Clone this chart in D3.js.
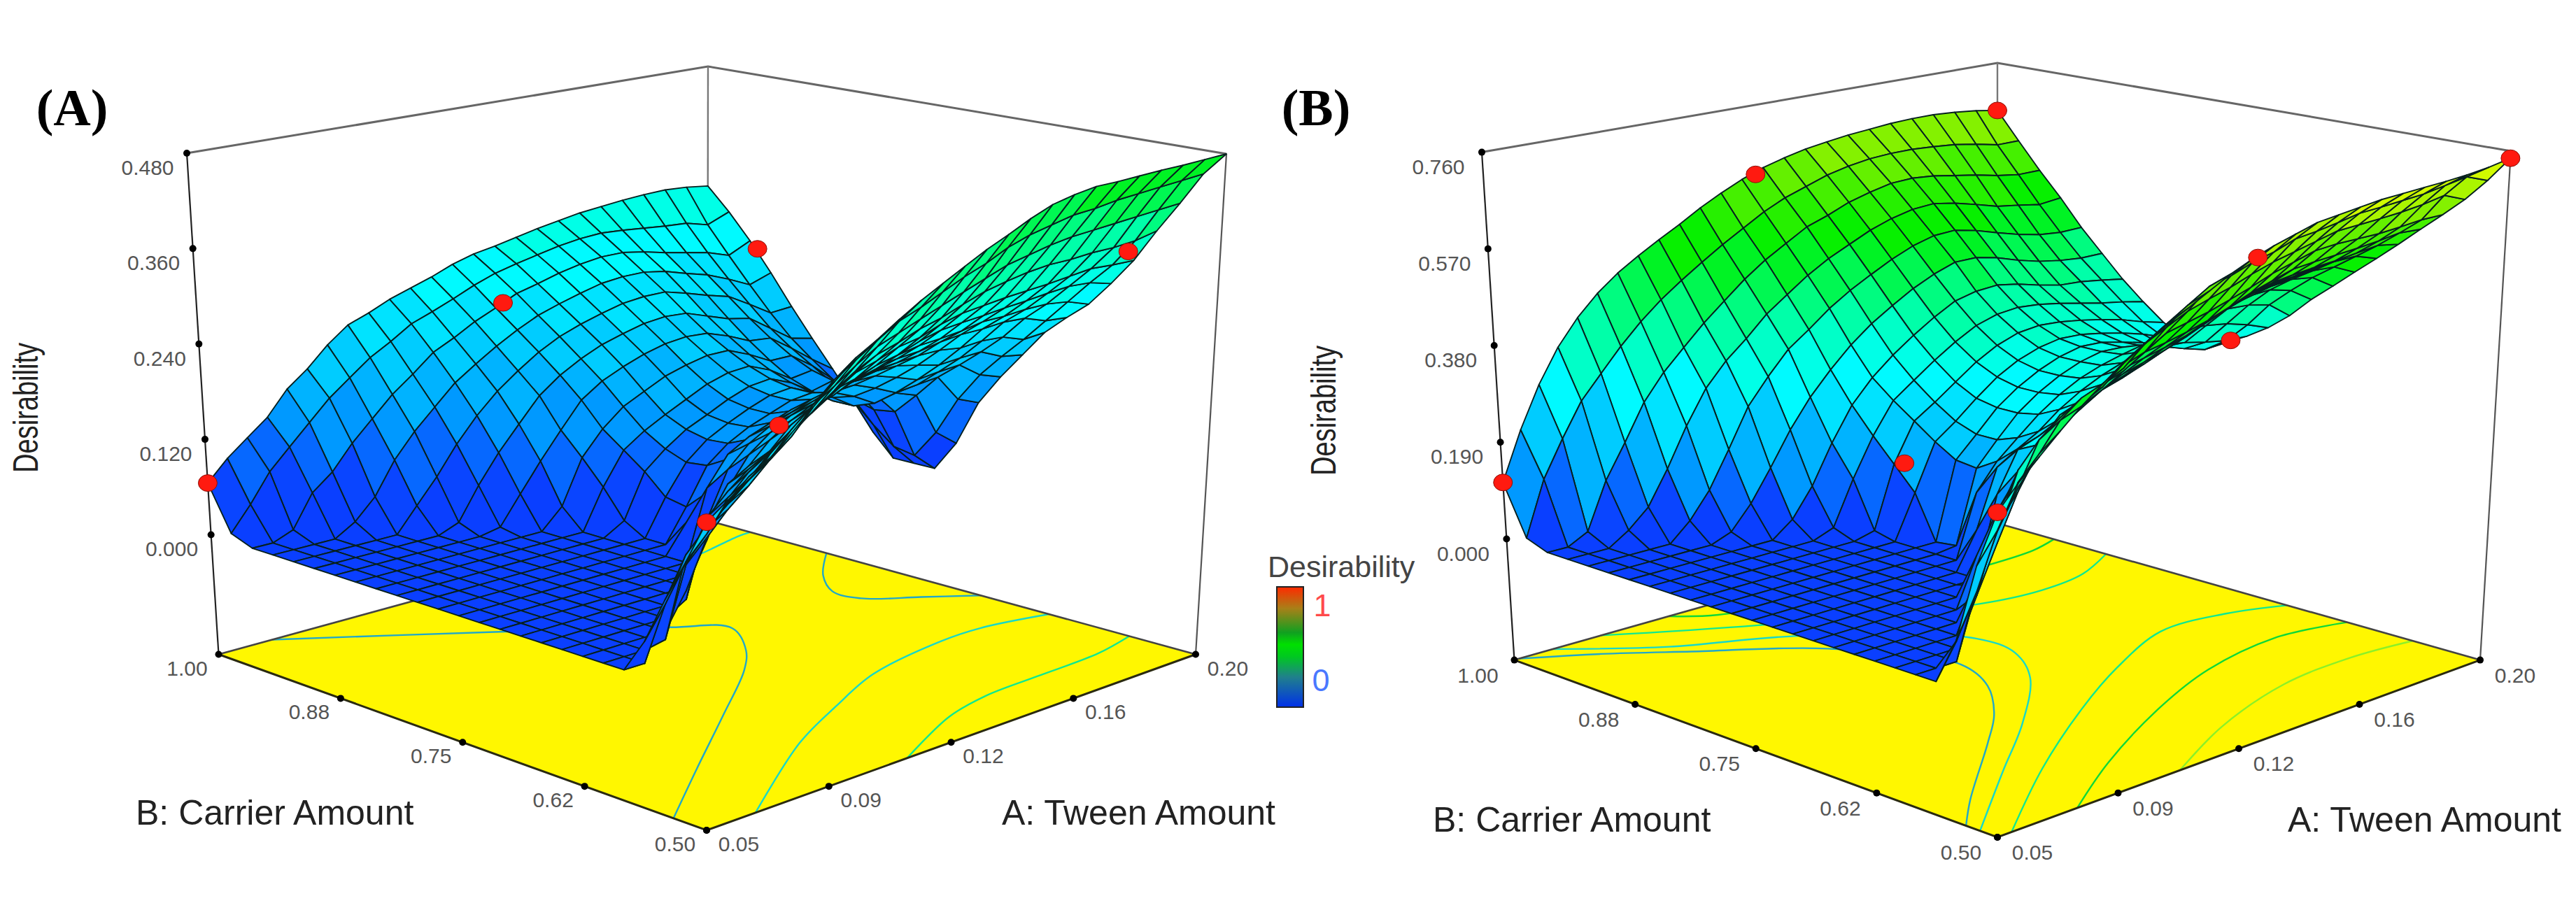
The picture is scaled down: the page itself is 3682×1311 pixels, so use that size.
<!DOCTYPE html>
<html>
<head>
<meta charset="utf-8">
<style>
  html, body { margin: 0; background: #fff; }
  text { font-family: "Liberation Sans", Arial, sans-serif; }
</style>
</head>
<body>
<svg id="chart" width="3682" height="1311"></svg>
<script src="https://cdn.jsdelivr.net/npm/d3@7"></script>
<script>
// axis values and labels
const aTicks = [0.05, 0.0875, 0.125, 0.1625, 0.2];
const aLabels = ["0.05", "0.09", "0.12", "0.16", "0.20"];
const bTicks = [1, 0.875, 0.75, 0.625, 0.5];
const bLabels = ["1.00", "0.88", "0.75", "0.62", "0.50"];
const zTicksA = [0, 0.12, 0.24, 0.36, 0.48];
const zTicksB = [0, 0.19, 0.38, 0.57, 0.76];

// surface heights, in thousandths
// one row per Tween value (0.05 -> 0.20), each running Carrier 1.00 -> 0.50
const desirA = [
  [65,10,0,0,0,0,0,0,0,0,0,0,0,0,0,0,0,0,0,0,0,40,95,145,197],
  [90,40,0,0,0,0,0,0,0,0,0,0,0,0,0,0,0,0,0,0,0,75,130,170,215],
  [110,75,10,0,0,0,0,0,0,0,0,0,0,0,0,0,0,0,0,0,65,125,165,200,232],
  [130,100,50,0,0,0,0,0,0,0,0,0,0,0,0,0,0,0,0,5,110,150,185,222,250],
  [160,125,70,15,0,0,0,0,0,0,0,0,0,0,0,0,0,0,0,85,135,170,205,235,272],
  [180,150,100,40,0,0,0,0,0,0,0,0,0,0,0,0,0,0,40,110,150,185,222,255,295],
  [205,170,125,80,30,0,0,0,0,0,0,0,0,0,0,0,0,15,120,150,180,215,250,285,318],
  [225,190,150,110,60,10,0,0,0,0,0,0,0,0,0,0,0,105,135,165,200,232,272,308,340],
  [235,205,170,135,95,50,5,0,0,0,0,0,0,0,0,0,85,130,160,190,222,252,288,325,355],
  [247,222,192,160,125,85,40,0,0,0,0,0,0,0,0,50,125,150,178,210,240,270,306,342,372],
  [256,232,205,178,150,115,75,25,0,0,0,0,0,0,60,105,140,165,195,225,255,287,322,358,388],
  [265,243,220,195,170,145,108,80,50,15,0,0,35,85,115,140,165,190,218,245,272,300,332,368,402],
  [276,255,232,210,188,165,140,110,90,70,45,40,65,120,140,160,182,205,226,252,280,308,342,380,416],
  [284,265,245,223,202,180,158,132,108,92,82,85,100,135,155,175,195,218,238,262,290,318,352,392,430],
  [289,272,252,232,212,192,170,145,122,110,104,106,118,145,165,185,205,225,245,268,295,325,362,402,442],
  [295,278,260,240,220,200,180,158,135,122,118,120,132,155,175,195,215,235,255,278,305,335,372,415,455],
  [301,284,266,247,227,207,187,166,148,135,130,130,140,160,180,200,218,238,260,285,312,344,382,424,466],
  [306,288,270,250,230,210,190,172,156,145,140,140,148,165,184,203,220,240,262,288,315,350,388,430,472],
  [311,290,270,250,230,208,188,172,158,148,143,143,150,166,184,203,222,245,265,290,318,355,394,436,476],
  [314,288,265,245,222,198,178,160,146,136,130,130,138,155,175,197,222,248,270,293,320,358,398,438,476],
  [317,285,258,236,213,188,165,145,128,118,112,112,122,142,165,190,218,248,270,295,322,358,400,442,477],
  [319,282,252,228,205,182,162,145,132,125,121,120,128,145,168,192,220,250,272,298,325,360,402,444,478],
  [320,280,246,216,188,162,142,125,108,94,86,90,118,148,170,193,218,248,272,300,328,360,404,446,478],
  [318,272,236,202,170,142,120,100,78,52,30,25,62,112,150,180,208,238,268,298,326,362,406,448,479],
  [314,284,250,212,172,135,100,65,28,0,0,0,40,100,140,175,210,235,258,290,325,368,408,450,480]
];
const desirB = [
  [111,15,0,0,0,0,0,0,0,0,0,0,0,0,0,0,0,0,0,0,0,0,85,228,333],
  [205,120,0,0,0,0,0,0,0,0,0,0,0,0,0,0,0,0,0,0,0,60,160,280,374],
  [285,190,20,0,0,0,0,0,0,0,0,0,0,0,0,0,0,0,0,0,0,150,262,355,410],
  [350,255,110,25,0,0,0,0,0,0,0,0,0,0,0,0,0,0,0,0,120,235,325,395,446],
  [400,300,175,60,0,0,0,0,0,0,0,0,0,0,0,0,0,0,0,85,225,335,400,445,480],
  [440,345,245,125,35,0,0,0,0,0,0,0,0,0,0,0,0,0,90,170,275,375,430,475,510],
  [472,385,295,200,85,15,0,0,0,0,0,0,0,0,0,0,0,40,170,270,340,415,445,485,538],
  [498,420,335,265,155,60,0,0,0,0,0,0,0,0,0,0,90,185,255,310,375,430,470,520,563],
  [522,450,375,310,230,120,30,0,0,0,0,0,0,0,0,10,140,240,300,350,405,450,490,545,587],
  [545,478,410,345,280,185,85,15,0,0,0,0,0,0,0,130,220,275,330,380,430,475,525,570,608],
  [570,505,445,385,325,240,160,100,10,0,0,0,0,70,150,205,260,310,355,400,445,490,545,595,630],
  [592,530,475,415,355,285,225,175,130,85,0,5,120,180,225,245,295,350,388,430,470,515,565,620,652],
  [612,555,500,445,388,325,270,235,205,175,150,145,170,205,240,280,325,360,400,440,478,525,578,630,670],
  [628,575,525,470,415,358,305,265,232,205,190,190,205,228,262,300,340,375,412,450,488,535,590,645,685],
  [640,590,540,490,438,385,335,295,262,240,232,232,240,260,285,318,352,388,425,462,500,548,605,655,697],
  [650,605,558,510,460,410,362,322,292,272,262,262,268,285,308,338,372,405,440,478,515,562,618,670,709],
  [657,615,570,525,478,430,385,345,315,295,285,285,290,305,328,358,390,425,462,495,532,578,628,675,714],
  [663,622,580,535,490,445,395,358,330,310,302,302,305,320,345,375,408,445,478,510,545,590,638,682,719],
  [667,625,582,538,492,445,398,362,335,318,312,312,316,332,358,392,428,462,492,522,558,602,648,690,724],
  [671,625,578,530,482,435,390,358,332,316,310,310,325,355,385,415,438,472,500,528,562,605,650,692,726],
  [673,622,570,518,468,420,378,350,325,308,300,302,315,355,392,425,448,478,505,532,565,605,652,695,728],
  [673,618,562,505,455,408,368,340,316,298,288,290,308,352,395,430,458,485,510,535,568,605,655,698,730],
  [670,610,552,498,445,400,365,330,305,285,272,275,298,345,392,432,462,488,515,540,572,608,660,705,733],
  [665,600,545,490,440,395,358,322,290,268,258,262,290,332,382,420,455,485,515,545,578,612,668,712,738],
  [657,600,545,495,441,395,350,312,278,257,253,265,288,315,349,391,427,464,500,537,575,612,650,695,746]
];

// design points: Tween, Carrier, desirability
const pointsA = [[0.05,1,0.065],[0.05,0.5,0.197],[0.125,0.951,0.241],[0.2,0.951,0.241],[0.1325,0.7035,0.156],[0.2,0.589,0.335]];
const pointsB = [[0.05,1,0.111],[0.129,1,0.617],[0.2,1,0.657],[0.05,0.5,0.333],[0.2,0.5,0.746],[0.2,0.766,0.272],[0.1265,0.5,0.67],[0.0957,0.7455,0.219]];

// contour lines on the floor: level, then Tween/Carrier points
const contoursA = [
  [0.12, [[0.05,0.534],[0.0755,0.595],[0.104,0.663],[0.128,0.722],[0.138,0.7535],[0.1468,0.7965],[0.138,0.83],[0.1085,0.907],[0.0665,1]]],
  [0.12, [[0.2,0.878],[0.1876,0.84],[0.1807,0.8075],[0.1813,0.78],[0.1907,0.75],[0.2,0.72]]],
  [0.24, [[0.2,0.65],[0.1835,0.665],[0.1715,0.665],[0.1453,0.648],[0.125,0.6175],[0.1025,0.58],[0.065,0.5]]],
  [0.24, [[0.2,0.956],[0.1963,0.955],[0.1805,0.942],[0.16,0.93]]],
  [0.36, [[0.2,0.568],[0.1873,0.5575],[0.168,0.555],[0.1511,0.5525],[0.1363,0.54],[0.1115,0.5]]]
];
const contoursB = [
  [0.12, [[0.05,0.5325],[0.062,0.568],[0.0898,0.6425],[0.1036,0.682],[0.116,0.73],[0.122,0.7775],[0.1085,0.87],[0.0845,0.9315],[0.068,0.97],[0.0515,1]]],
  [0.24, [[0.05,0.518],[0.0793,0.592],[0.104,0.654],[0.1265,0.721],[0.136,0.768],[0.137,0.812],[0.11,0.905],[0.083,0.95],[0.062,1]]],
  [0.36, [[0.0544,0.5],[0.0868,0.576],[0.12,0.6455],[0.1445,0.691],[0.1685,0.726],[0.187,0.72],[0.2,0.7]]],
  [0.36, [[0.2,0.8875],[0.186,0.865],[0.1715,0.8585],[0.155,0.8675],[0.1085,0.9425],[0.077,1]]],
  [0.48, [[0.0748,0.5],[0.0995,0.55],[0.1325,0.606],[0.157,0.6385],[0.182,0.653],[0.2,0.638]]],
  [0.48, [[0.2,0.9415],[0.191,0.9325],[0.176,0.93]]],
  [0.48, [[0.098,1],[0.107,0.979],[0.13,0.965]]],
  [0.6, [[0.1067,0.5],[0.1325,0.5425],[0.161,0.5735],[0.183,0.5785],[0.2,0.57]]]
];

const legendStops = [[0,"#0030e8"],[0.25,"#20808c"],[0.42,"#00c820"],[0.52,"#00e000"],[0.62,"#10a020"],[0.82,"#a88018"],[1,"#ff2a00"]];

const svg = d3.select("#chart");

// colour of a mesh cell, in visible bands like the original
const ramp = d3.scaleLinear()
  .domain([0, 0.07, 0.11, 0.18, 0.27, 0.38, 0.5, 0.64, 0.76, 1])
  .range(["#0a3cff", "#0a48ff", "#0090ff", "#00c4ff", "#00ffff", "#00ff9e", "#00f000", "#7cf000", "#ffff00", "#ff0000"]);
const bandColor = z => ramp((Math.floor(z / 0.035) + 0.5) * 0.035);
const contourColor = d3.scaleOrdinal()
  .domain([0.12, 0.24, 0.36, 0.48, 0.6])
  .range(["#22a8c8", "#18d8c8", "#10e890", "#10d838", "#8cf028"]);

const sScale = d3.scaleLinear().domain([0.05, 0.2]).range([0, 1]);
const wScale = d3.scaleLinear().domain([0.5, 1]).range([0, 1]);
const lerp = (p, q, t) => [p[0] + (q[0] - p[0]) * t, p[1] + (q[1] - p[1]) * t];
const bilinear = (c, s, w) => lerp(lerp(c.F, c.R, s), lerp(c.L, c.B, s), w);

function drawPanel(cfg) {
  const g = svg.append("g");
  const tScale = d3.scaleLinear().domain([cfg.zFloor, cfg.zTop]).range([0, 1]);
  const project = (a, b, z) => lerp(
    bilinear(cfg.floor, sScale(a), wScale(b)),
    bilinear(cfg.top, sScale(a), wScale(b)),
    tScale(z));
  const flat = (a, b) => bilinear(cfg.floor, sScale(a), wScale(b));
  const line = d3.line();

  // floor
  g.append("path")
    .attr("d", line([cfg.floor.F, cfg.floor.R, cfg.floor.B, cfg.floor.L]) + "Z")
    .attr("fill", "#fff700");

  // contours on the floor
  g.selectAll("path.contour")
    .data(cfg.contours)
    .enter().append("path")
      .attr("class", "contour")
      .attr("d", d => d3.line().curve(d3.curveCatmullRom)(d[1].map(p => flat(p[0], p[1]))))
      .attr("fill", "none")
      .attr("stroke", d => contourColor(d[0]))
      .attr("stroke-width", 2.4);

  // floor edges
  g.append("path")
    .attr("d", line([cfg.floor.L, cfg.floor.F, cfg.floor.R]))
    .attr("fill", "none").attr("stroke", "#2a2a10").attr("stroke-width", 3);
  g.append("path")
    .attr("d", line([cfg.floor.L, cfg.floor.B, cfg.floor.R]))
    .attr("fill", "none").attr("stroke", "#444").attr("stroke-width", 2.6);

  // box: top edges and verticals
  g.append("path")
    .attr("d", line([cfg.top.L, cfg.top.B, cfg.top.R]))
    .attr("fill", "none").attr("stroke", "#666").attr("stroke-width", 3);
  g.append("path")
    .attr("d", line([cfg.top.B, cfg.floor.B]))
    .attr("fill", "none").attr("stroke", "#777").attr("stroke-width", 2.4);
  g.append("path")
    .attr("d", line([cfg.top.R, cfg.floor.R]))
    .attr("fill", "none").attr("stroke", "#555").attr("stroke-width", 2.2);
  g.append("path")
    .attr("d", line([cfg.top.L, cfg.floor.L]))
    .attr("fill", "none").attr("stroke", "#222").attr("stroke-width", 2.2);

  // surface cells, far corner first
  const n = cfg.values.length - 1;
  const aAt = d3.scaleLinear().domain([0, n]).range([0.05, 0.2]);
  const bAt = d3.scaleLinear().domain([0, n]).range([1, 0.5]);
  const cells = [];
  for (let i = 0; i < n; i++) {
    for (let j = 0; j < n; j++) {
      const zs = [cfg.values[i][j], cfg.values[i + 1][j], cfg.values[i + 1][j + 1], cfg.values[i][j + 1]].map(v => v / 1000);
      cells.push({
        depth: sScale(aAt(i + 0.5)) + wScale(bAt(j + 0.5)),
        z: d3.mean(zs),
        pts: [
          project(aAt(i), bAt(j), zs[0]),
          project(aAt(i + 1), bAt(j), zs[1]),
          project(aAt(i + 1), bAt(j + 1), zs[2]),
          project(aAt(i), bAt(j + 1), zs[3])
        ]
      });
    }
  }
  cells.sort((p, q) => q.depth - p.depth);
  g.selectAll("path.cell")
    .data(cells)
    .enter().append("path")
      .attr("class", "cell")
      .attr("d", d => line(d.pts) + "Z")
      .attr("fill", d => bandColor(d.z))
      .attr("stroke", "#06201f")
      .attr("stroke-width", 1.9)
      .attr("stroke-linejoin", "round");

  // tick dots
  const ticks = [
    ...cfg.zTicks.map(z => project(0.05, 1, z)),
    ...bTicks.map(b => flat(0.05, b)),
    ...aTicks.map(a => flat(a, 0.5))
  ];
  g.selectAll("circle.tick")
    .data(ticks)
    .enter().append("circle")
      .attr("class", "tick")
      .attr("cx", d => d[0]).attr("cy", d => d[1])
      .attr("r", 5).attr("fill", "#000");

  // tick labels
  const labelStyle = sel => sel
    .attr("text-anchor", "middle")
    .attr("font-size", 30)
    .attr("fill", "#555");
  g.selectAll("text.z")
    .data(cfg.zTicks)
    .enter().append("text").attr("class", "z")
      .attr("x", d => project(0.05, 1, d)[0] + cfg.zOff[0])
      .attr("y", d => project(0.05, 1, d)[1] + cfg.zOff[1] + 11)
      .text(d => d3.format(".3f")(d))
      .call(labelStyle);
  g.selectAll("text.b")
    .data(bTicks)
    .enter().append("text").attr("class", "b")
      .attr("x", d => flat(0.05, d)[0] + cfg.bOff[0])
      .attr("y", d => flat(0.05, d)[1] + cfg.bOff[1] + 11)
      .text((d, i) => bLabels[i])
      .call(labelStyle);
  g.selectAll("text.a")
    .data(aTicks)
    .enter().append("text").attr("class", "a")
      .attr("x", d => flat(d, 0.5)[0] + cfg.aOff[0])
      .attr("y", d => flat(d, 0.5)[1] + cfg.aOff[1] + 11)
      .text((d, i) => aLabels[i])
      .call(labelStyle);

  // design points
  g.selectAll("ellipse.point")
    .data(cfg.points)
    .enter().append("ellipse")
      .attr("class", "point")
      .attr("cx", d => project(d[0], d[1], d[2])[0])
      .attr("cy", d => project(d[0], d[1], d[2])[1])
      .attr("rx", 13.5).attr("ry", 12)
      .attr("fill", "#ff1a10").attr("stroke", "#8a1008").attr("stroke-width", 1);

  // titles
  g.append("text").attr("x", cfg.bTitleX).attr("y", cfg.titleY)
    .attr("font-size", 50).attr("fill", "#222").text("B: Carrier Amount");
  g.append("text").attr("x", cfg.aTitleX).attr("y", cfg.titleY)
    .attr("font-size", 50).attr("fill", "#222").text("A: Tween Amount");
  g.append("text")
    .attr("transform", `translate(${cfg.zTitle[0]},${cfg.zTitle[1]}) rotate(-90)`)
    .attr("text-anchor", "middle")
    .attr("font-size", 50).attr("fill", "#222")
    .attr("textLength", 186).attr("lengthAdjust", "spacingAndGlyphs")
    .text("Desirability");
  g.append("text")
    .attr("x", cfg.letter[0]).attr("y", cfg.letter[1])
    .attr("text-anchor", "middle")
    .style("font-family", "'Liberation Serif', serif")
    .attr("font-weight", "bold").attr("font-size", 74).attr("fill", "#000")
    .text(cfg.name);
}

drawPanel({
  name: "(A)", values: desirA, points: pointsA, contours: contoursA, zTicks: zTicksA,
  zFloor: -0.1505, zTop: 0.48,
  floor: { F: [1010, 1187], R: [1709, 935.5], B: [1011, 744], L: [312.5, 935.5] },
  top: { F: [1010, 388], R: [1753, 220], B: [1012, 95], L: [267, 219] },
  zOff: [-56, 20], bOff: [-45, 19], aOff: [46, 19],
  bTitleX: 194, aTitleX: 1432, titleY: 1179,
  zTitle: [54, 583], letter: [103, 179]
});
drawPanel({
  name: "(B)", values: desirB, points: pointsB, contours: contoursB, zTicks: zTicksB,
  zFloor: -0.2379, zTop: 0.76,
  floor: { F: [2855, 1197], R: [3545, 943.6], B: [2855, 748], L: [2164.5, 943.6] },
  top: { F: [2855, 385], R: [3589, 216], B: [2855, 90], L: [2118, 217.6] },
  zOff: [-62, 20], bOff: [-52, 21], aOff: [50, 21],
  bTitleX: 2048, aTitleX: 3270, titleY: 1189,
  zTitle: [1909, 587], letter: [1881, 179]
});

// colour key between the panels
const grad = svg.append("defs").append("linearGradient")
  .attr("id", "key").attr("x1", 0).attr("y1", 1).attr("x2", 0).attr("y2", 0);
grad.selectAll("stop").data(legendStops).enter().append("stop")
  .attr("offset", d => d[0]).attr("stop-color", d => d[1]);
svg.append("rect").attr("x", 1825).attr("y", 839).attr("width", 38).attr("height", 172)
  .attr("fill", "url(#key)").attr("stroke", "#222").attr("stroke-width", 2);
svg.append("text").attr("x", 1812).attr("y", 825).attr("font-size", 43).attr("fill", "#444").text("Desirability");
svg.append("text").attr("x", 1890).attr("y", 881).attr("text-anchor", "middle").attr("font-size", 45).attr("fill", "#ff4a4a").text("1");
svg.append("text").attr("x", 1888).attr("y", 988).attr("text-anchor", "middle").attr("font-size", 45).attr("fill", "#4a78ff").text("0");
</script>
</body>
</html>
